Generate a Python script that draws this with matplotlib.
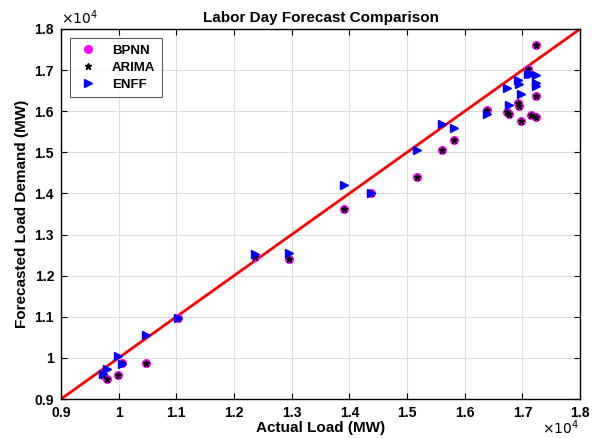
import matplotlib.pyplot as plt
import numpy as np

# Actual load (MW) and forecasts of the three models
actual = [9730, 9790, 9990, 10050, 10470, 11030, 12360, 12950, 13900, 14380, 15170, 15600,
          15810, 16380, 16740, 16760, 16920, 16940, 16970, 17090, 17150, 17240, 17240, 17240]
bpnn = [9580, 9490, 9580, 9870, 9870, 10970, 12450, 12400, 13610, 14020, 14390, 15060,
        15300, 16030, 15990, 15930, 16190, 16130, 15760, 17030, 15910, 15870, 16380, 17610]
arima = [9580, 9490, 9580, 9870, 9870, 10970, 12450, 12400, 13610, 14020, 14390, 15060,
         15300, 16030, 15990, 15930, 16190, 16130, 15760, 17030, 15910, 15870, 16380, 17610]
enff = [9620, 9720, 10046, 9850, 10560, 10970, 12520, 12540, 14200, 14020, 15060, 15690,
        15580, 15920, 16560, 16140, 16760, 16660, 16420, 16900, 16900, 16880, 16680, 16610]

font = 'Liberation Sans'
plt.rcParams['font.family'] = [font, 'DejaVu Sans']

fig = plt.figure(figsize=(5.92, 4.38), dpi=100)
ax = fig.add_axes([0.103, 0.089, 0.877, 0.845])

ax.plot([9000, 18000], [9000, 18000], color='red', linewidth=2, zorder=2)
ax.plot(actual, bpnn, linestyle='none', marker='o', markersize=5.5, color='magenta', label='BPNN', zorder=3)
ax.plot(actual, arima, linestyle='none', marker='*', markersize=4.5, color='black', label='ARIMA', zorder=4)
ax.plot(actual, enff, linestyle='none', marker='>', markersize=6, color='blue', label='ENFF', zorder=5)

ax.set_xlim(9000, 18000)
ax.set_ylim(9000, 18000)
ticks = np.arange(9000, 18001, 1000)
ax.set_xticks(ticks)
ax.set_yticks(ticks)
labels = ['%g' % (t / 1e4) for t in ticks]
ax.set_xticklabels(labels, fontweight='bold', fontsize=10)
ax.set_yticklabels(labels, fontweight='bold', fontsize=10)
ax.grid(True, color='#dcdcdc', linewidth=0.8)
ax.set_axisbelow(True)
ax.tick_params(direction='in', top=True, right=True, length=4, width=0.8, pad=5)
for s in ax.spines.values():
    s.set_linewidth(1.0)

ax.set_title('Labor Day Forecast Comparison', fontweight='bold', fontsize=11, pad=5)
ax.set_xlabel('Actual Load (MW)', fontweight='bold', fontsize=11, labelpad=1)
ax.set_ylabel('Forecasted Load Demand (MW)', fontweight='bold', fontsize=11, labelpad=4)

ax.text(0.0, 1.005, r'$\times10^4$', transform=ax.transAxes, fontsize=10, ha='left', va='bottom')
ax.text(0.998, -0.052, r'$\times10^4$', transform=ax.transAxes, fontsize=10, ha='right', va='top')

leg = ax.legend(loc='upper left', bbox_to_anchor=(0.017, 0.975), borderaxespad=0, fancybox=False,
                edgecolor='#333333', prop={'weight': 'bold', 'size': 9.5}, borderpad=0.5,
                labelspacing=0.35, handletextpad=0.9, handlelength=1.8)
leg.get_frame().set_linewidth(0.8)

plt.savefig('out.png', dpi=100)
